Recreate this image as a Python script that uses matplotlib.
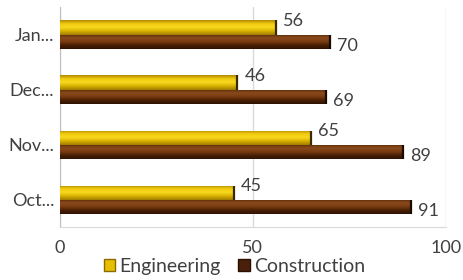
import matplotlib
matplotlib.use("Agg")
import matplotlib.pyplot as plt
import numpy as np
from matplotlib.colors import LinearSegmentedColormap

categories = ["Oct...", "Nov...", "Dec...", "Jan..."]
engineering = [45, 65, 46, 56]
construction = [91, 89, 69, 70]
series_names = ["Engineering", "Construction"]
xticks = [0, 50, 100]

plt.rcParams['font.family'] = ['Lato', 'DejaVu Sans']
fig = plt.figure(figsize=(4.64, 2.8), dpi=100)
ax = fig.add_axes([0.129, 0.189, 0.832, 0.786])

eng_cmap = LinearSegmentedColormap.from_list("eng", ["#B08A00", "#F2CC10", "#F7D81E", "#D6AE00", "#A07C00"])
con_cmap = LinearSegmentedColormap.from_list("con", ["#5A2A08", "#8A4A1C", "#7A3C12", "#4A2005", "#2E1203"])

h = 0.255
y = np.arange(len(categories))
grad = np.linspace(0, 1, 64).reshape(-1, 1)

def draw(vals, offset, color, cmap, edge):
    bars = ax.barh(y + offset, vals, height=h, color=color, zorder=2)
    for b, v in zip(bars, vals):
        y0 = b.get_y()
        im = ax.imshow(grad, cmap=cmap, aspect='auto', origin='upper',
                       extent=(0, v, y0, y0 + h), zorder=3)
        im.set_clip_path(b)
        ax.plot([v, v], [y0, y0 + h], color=edge, lw=1.6, zorder=4, solid_capstyle='butt')
    return bars

b1 = draw(engineering, h / 2, "#F2CC10", eng_cmap, "#3A2A00")
b2 = draw(construction, -h / 2, "#6B3410", con_cmap, "#1A0A00")

for yy, v in zip(y, engineering):
    ax.annotate(str(v), (v, yy + h / 2), xytext=(5, 5), textcoords='offset points',
                va='center', ha='left', fontsize=13, color='#404040')
for yy, v in zip(y, construction):
    ax.annotate(str(v), (v, yy - h / 2), xytext=(5, -3), textcoords='offset points',
                va='center', ha='left', fontsize=13, color='#404040')

ax.set_xlim(0, 100)
ax.set_ylim(-0.5, 3.5)
ax.set_xticks(xticks)
ax.set_xticklabels([str(t) for t in xticks], fontsize=13, color='#404040')
ax.set_yticks(y)
ax.set_yticklabels(categories, fontsize=13, color='#404040')
ax.tick_params(axis='x', length=0, pad=9)
ax.tick_params(axis='y', length=0, pad=4)
ax.xaxis.grid(True, color='#D9D9D9', lw=1)
ax.set_axisbelow(True)
for s in ['top', 'right']:
    ax.spines[s].set_visible(False)
ax.spines['left'].set_color('#BFBFBF')
ax.spines['bottom'].set_color('#D9D9D9')

from matplotlib.patches import Patch
handles = [Patch(facecolor="#E8BE00", edgecolor="#8A6A00"), Patch(facecolor="#4A200A", edgecolor="#2A1000")]
fig.legend(handles, series_names, loc='lower center', bbox_to_anchor=(0.505, -0.045), ncol=2,
           frameon=False, fontsize=14, handlelength=0.6, handleheight=0.6,
           handletextpad=0.2, columnspacing=0.9, labelcolor='#404040')

fig.savefig("out.png", dpi=100)
